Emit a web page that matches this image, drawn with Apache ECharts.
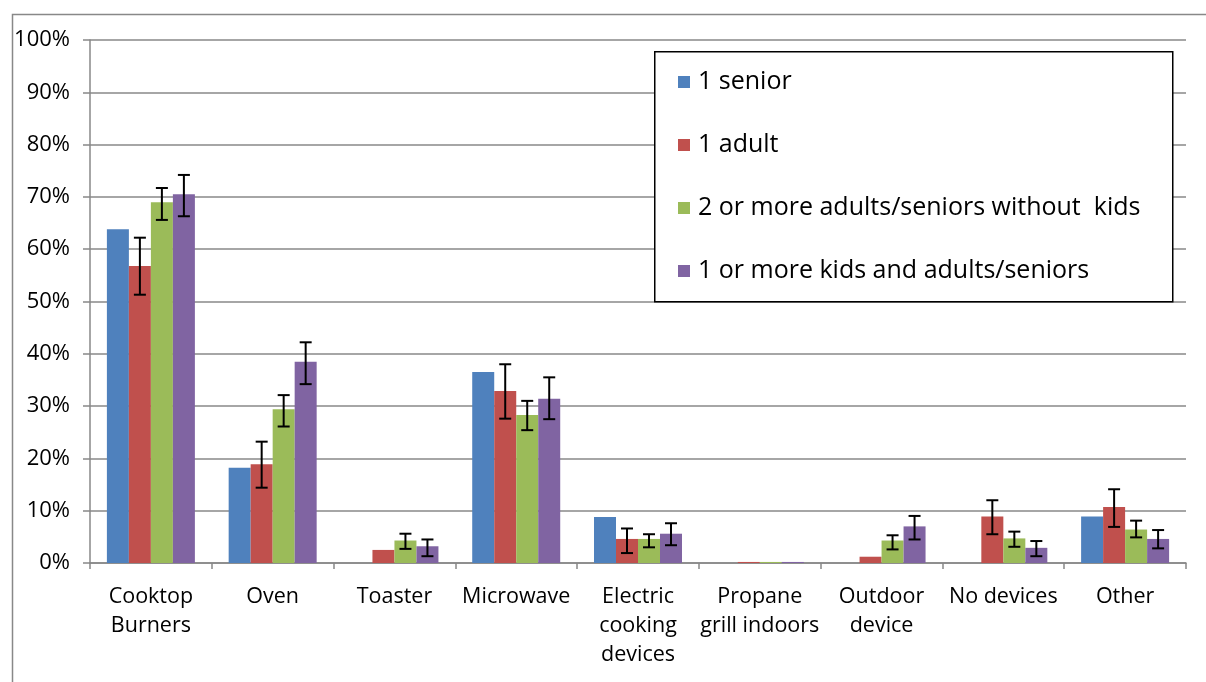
<!DOCTYPE html>
<html>
<head>
<meta charset="utf-8">
<script src="https://cdn.jsdelivr.net/npm/echarts@6/dist/echarts.min.js"></script>
<style>html,body{margin:0;padding:0;background:#fff;}#c{width:1206px;height:682px;}</style>
</head>
<body>
<div id="c"></div>
<script>
const categories = ['Cooktop\nBurners','Oven','Toaster','Microwave','Electric\ncooking\ndevices','Propane\ngrill indoors','Outdoor\ndevice','No devices','Other'];
const seriesNames = ['1 senior','1 adult','2 or more adults/seniors without  kids','1 or more kids and adults/seniors'];
const senior   = [63.8, 18.2, 0,   36.5, 8.8, 0,   0,   0,   8.9];
const adult    = [56.8, 18.9, 2.5, 32.9, 4.6, 0.2, 1.2, 8.9, 10.7];
const multi    = [69.0, 29.4, 4.3, 28.3, 4.6, 0.2, 4.3, 4.7, 6.4];
const kids     = [70.5, 38.5, 3.2, 31.4, 5.6, 0.2, 7.0, 2.9, 4.6];
// error bar ranges [categoryIndex, low, high]
const adultErr = [[0,51.3,62.2],[1,14.4,23.2],[3,27.6,38.0],[4,1.9,6.6],[7,5.5,12.0],[8,6.9,14.1]];
const multiErr = [[0,65.6,71.7],[1,26.1,32.1],[2,2.7,5.6],[3,25.4,31.0],[4,3.0,5.5],[6,2.6,5.3],[7,3.1,6.0],[8,4.9,8.1]];
const kidsErr  = [[0,66.3,74.2],[1,34.2,42.2],[2,1.3,4.5],[3,27.5,35.5],[4,3.4,7.6],[6,4.5,9.0],[7,1.3,4.2],[8,2.8,6.3]];
const yTicks = [0,10,20,30,40,50,60,70,80,90,100];

const colors = ['#4F81BD','#C0504D','#9BBB59','#8064A2'];
const BAR_W = 22;
const FONT = '"Open Sans", "Noto Sans", sans-serif';

function errSeries(data, idx) {
  return {
    type: 'custom',
    data: data,
    z: 10,
    silent: true,
    renderItem: function (params, api) {
      const ci = api.value(0);
      const lo = api.coord([ci, api.value(1)]);
      const hi = api.coord([ci, api.value(2)]);
      const x = lo[0] + (idx - 1.5) * BAR_W;
      const cap = 6;
      const st = { stroke: '#000', lineWidth: 2 };
      return {
        type: 'group',
        children: [
          { type: 'line', shape: { x1: x, y1: lo[1], x2: x, y2: hi[1] }, style: st },
          { type: 'line', shape: { x1: x - cap, y1: lo[1], x2: x + cap, y2: lo[1] }, style: st },
          { type: 'line', shape: { x1: x - cap, y1: hi[1], x2: x + cap, y2: hi[1] }, style: st }
        ]
      };
    }
  };
}

const chart = echarts.init(document.getElementById('c'), null, { renderer: 'canvas' });
const vals = [senior, adult, multi, kids];
const option = {
  animation: false,
  textStyle: { fontFamily: FONT },
  grid: { left: 90, right: 20, top: 40, bottom: 119 },
  graphic: [
    { type: 'rect', left: 10, top: 12, shape: { width: 1210, height: 700 }, style: { fill: 'none', stroke: '#888', lineWidth: 1.5 }, z: -1 },
    { type: 'rect', left: 654, top: 51, shape: { width: 518, height: 250 }, style: { fill: '#fff', stroke: '#000', lineWidth: 1.5 }, z: 50 }
  ],
  legend: {
    orient: 'vertical',
    left: 678,
    top: 67,
    padding: 0,
    itemWidth: 12,
    itemHeight: 12,
    itemGap: 33,
    icon: 'rect',
    z: 60,
    data: seriesNames,
    textStyle: { fontFamily: FONT, fontSize: 25, color: '#000', lineHeight: 30, padding: [0,0,0,3] }
  },
  xAxis: {
    type: 'category',
    data: categories,
    axisLine: { lineStyle: { color: '#888', width: 1.5 } },
    axisTick: { show: true, length: 6, lineStyle: { color: '#888', width: 1.5 } },
    axisLabel: { interval: 0, color: '#000', fontSize: 21.5, lineHeight: 29, margin: 19, fontFamily: FONT }
  },
  yAxis: {
    type: 'value',
    min: yTicks[0], max: yTicks[yTicks.length - 1], interval: 10,
    axisLine: { show: true, lineStyle: { color: '#888', width: 1.5 } },
    axisTick: { show: true, length: 7, lineStyle: { color: '#888', width: 1.5 } },
    splitLine: { lineStyle: { color: '#888', width: 1.5 } },
    axisLabel: { formatter: '{value}%', color: '#000', fontSize: 22, margin: 20, fontFamily: FONT }
  },
  series: vals.map((v, i) => ({
    name: seriesNames[i],
    type: 'bar',
    data: v,
    barWidth: BAR_W,
    barGap: '0%',
    itemStyle: { color: colors[i] }
  })).concat([errSeries(adultErr, 1), errSeries(multiErr, 2), errSeries(kidsErr, 3)])
};
chart.setOption(option);
</script>
</body>
</html>
